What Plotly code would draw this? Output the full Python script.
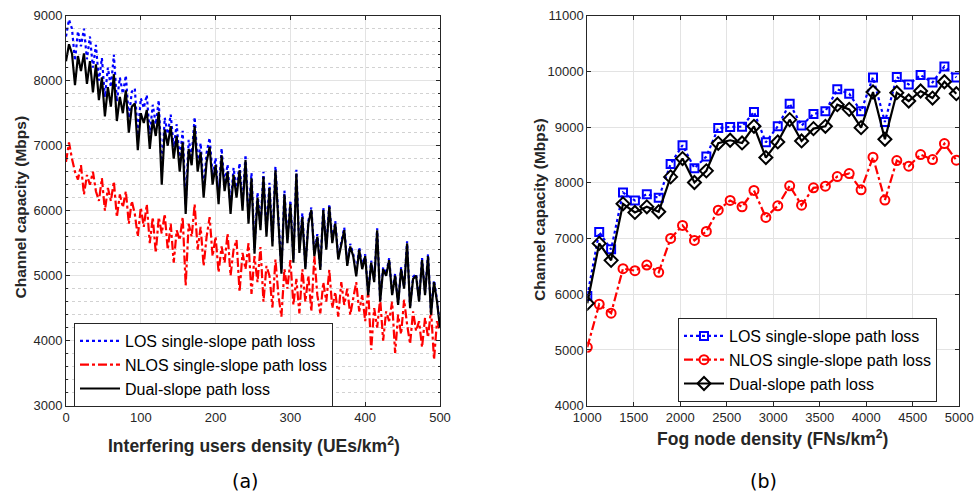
import plotly.graph_objects as go

# ---------------- (a) Interfering users density ----------------
ue_density = list(range(0, 501, 4))

los_a = [
    8680, 8940, 8800, 8310, 8760, 8530, 8800, 8330, 8680, 8200,
    8550, 8000, 8350, 7750, 8200, 7900, 8400, 7680, 8050, 7800,
    8080, 7430, 7830, 7880, 7160, 7730, 7580, 7780, 7180, 7630,
    7330, 7700, 6580, 7430, 7180, 7480, 6980, 7330, 6780, 7230,
    6090, 7090, 6840, 7440, 6740, 7040, 6340, 6890, 7120, 6540,
    6810, 6210, 6960, 6410, 6710, 6060, 6660, 6310, 6730, 6110,
    6860, 5880, 6580, 5420, 6280, 5780, 6600, 5680, 6430, 5530,
    6680, 5860, 5090, 6310, 5560, 6160, 5260, 6630, 5410, 5960,
    5140, 5840, 6050, 5340, 5640, 5130, 6050, 5440, 6100, 5540,
    5840, 5290, 5540, 5740, 5190, 5490, 5340, 5030, 5440, 5140,
    5330, 4730, 5230, 4930, 5730, 4630, 5130, 5030, 5270, 4730,
    5030, 4580, 5130, 4830, 5530, 4530, 4980, 5030, 4630, 5270,
    4730, 5330, 4430, 4930, 4630, 4230,
]

nlos_a = [
    6750, 7050, 6800, 6600, 6480, 6700, 6250, 6550, 6400, 6600,
    6300, 6150, 6500, 6000, 6350, 6150, 6450, 5900, 6250, 6050,
    6300, 5800, 6150, 5950, 5600, 6050, 5750, 6100, 5500, 5900,
    5350, 5900, 5650, 5950, 5400, 5800, 5200, 5700, 5550, 5900,
    4850, 5800, 5600, 6100, 5400, 5750, 5150, 5600, 5900, 5300,
    5600, 5050, 5450, 5200, 5650, 5000, 5400, 5550, 4750, 5350,
    5100, 5500, 4720, 5300, 4900, 5440, 4600, 5150, 5000, 4510,
    5250, 4700, 4370, 5100, 4800, 5240, 4550, 4950, 4420, 5100,
    4600, 5000, 4450, 5300, 4700, 4420, 4900, 4600, 5090, 4500,
    4750, 4370, 4900, 4550, 4800, 4400, 4650, 4900, 4450, 4700,
    4300, 4780, 3860, 4500, 4200, 4650, 4000, 4450, 4300, 4600,
    3810, 4400, 4100, 4630, 4250, 3950, 4450, 4150, 4300, 3900,
    4350, 4050, 4480, 3710, 4300, 4150,
]

dual_a = [
    8300, 8560, 8420, 7930, 8380, 8150, 8420, 7950, 8300, 7820,
    8250, 7700, 8050, 7450, 7900, 7600, 8100, 7380, 7750, 7500,
    7850, 7200, 7600, 7650, 6930, 7500, 7350, 7550, 6950, 7400,
    7150, 7520, 6400, 7250, 7000, 7300, 6800, 7150, 6600, 7050,
    5950, 6950, 6700, 7300, 6600, 6900, 6200, 6750, 6980, 6400,
    6700, 6100, 6850, 6300, 6600, 5950, 6550, 6200, 6620, 6000,
    6780, 5800, 6500, 5340, 6200, 5700, 6520, 5600, 6350, 5450,
    6620, 5800, 5030, 6250, 5500, 6100, 5200, 6570, 5350, 5900,
    5100, 5800, 6010, 5300, 5600, 5090, 6010, 5400, 6060, 5500,
    5800, 5250, 5500, 5700, 5150, 5450, 5300, 4990, 5400, 5100,
    5300, 4700, 5200, 4900, 5700, 4600, 5100, 5000, 5240, 4700,
    5000, 4550, 5100, 4800, 5500, 4500, 4950, 5000, 4600, 5240,
    4700, 5300, 4400, 4900, 4600, 4200,
]

# ---------------- (b) Fog node density ----------------
fn_density = [1000 + 128 * i for i in range(32)]

los_b = [
    5970, 7116, 6806, 7827, 7684, 7797, 7731, 8340, 8675, 8263,
    8472, 8985, 9003, 9009, 9272, 8728, 9015, 9421, 9027, 9236,
    9284, 9678, 9600, 9284, 9893, 9093, 9899, 9767, 9934, 9803,
    10090, 9893,
]
nlos_b = [
    5048, 5821, 5660, 6460, 6424, 6525, 6394, 7003, 7236, 6967,
    7128, 7510, 7684, 7570, 7863, 7379, 7588, 7946, 7600, 7910,
    7940, 8113, 8167, 7875, 8460, 7690, 8400, 8299, 8507, 8418,
    8704, 8406,
]
dual_b = [
    5839, 6913, 6609, 7624, 7469, 7570, 7481, 8107, 8436, 8006,
    8215, 8710, 8764, 8716, 9015, 8454, 8734, 9134, 8752, 8973,
    9015, 9403, 9319, 8991, 9630, 8782, 9618, 9469, 9648, 9522,
    9815, 9600,
]

names = ["LOS single-slope path loss", "NLOS single-slope path loss", "Dual-slope path loss"]
colors = ["#0000ff", "#ff0000", "#000000"]
dashes = ["dot", "dashdot", "solid"]
symbols = ["square-open", "circle-open", "diamond-open"]
msizes = [8, 9, 10]

fig = go.Figure()

for nm, ys, c, d in zip(names, [los_a, nlos_a, dual_a], colors, dashes):
    fig.add_trace(go.Scatter(x=ue_density, y=ys, mode="lines", name=nm,
                             line=dict(color=c, width=2.2, dash=d),
                             xaxis="x", yaxis="y", legend="legend"))

for nm, ys, c, d, s, ms in zip(names, [los_b, nlos_b, dual_b], colors, dashes, symbols, msizes):
    fig.add_trace(go.Scatter(x=fn_density, y=ys, mode="lines+markers", name=nm,
                             line=dict(color=c, width=2.2, dash=d),
                             marker=dict(symbol=s, size=ms, color=c, line=dict(width=2, color=c)),
                             xaxis="x2", yaxis="y2", legend="legend2"))

axis_col = "#262626"
grid_col = "#e3e3e3"
FONT = "Liberation Sans, Arial, sans-serif"
tick_font = dict(family=FONT, size=13, color=axis_col)

common = dict(showline=True, linecolor=axis_col, linewidth=1, mirror="ticks",
              ticks="inside", ticklen=4, tickcolor=axis_col, tickfont=tick_font,
              showgrid=True, gridcolor=grid_col, gridwidth=1, zeroline=False,
              automargin=False, tickformat="d")

ydom = [1 - 405.7 / 497, 1 - 15.7 / 497]

def ann(text, x, y, size, angle=0, family=FONT, color=axis_col):
    return dict(text=text, x=x / 975, y=1 - y / 497, xref="paper", yref="paper",
                xanchor="center", yanchor="middle", showarrow=False, textangle=angle,
                font=dict(family=family, size=size, color=color))

fig.update_layout(
    width=975, height=497,
    margin=dict(l=0, r=0, t=0, b=0),
    paper_bgcolor="white", plot_bgcolor="white",
    showlegend=True,
    xaxis=dict(domain=[66 / 975, 440 / 975], range=[0, 500], dtick=100, anchor="y", **common),
    yaxis=dict(domain=ydom, range=[3000, 9000], dtick=1000, anchor="x",
               minor=dict(dtick=200, showgrid=True, griddash="dot", gridcolor="#d2d2d2",
                          gridwidth=1, ticks="inside", ticklen=2, tickcolor=axis_col),
               **common),
    xaxis2=dict(domain=[587.3 / 975, 959.3 / 975], range=[1000, 5000], dtick=500, anchor="y2", **common),
    yaxis2=dict(domain=ydom, range=[4000, 11000], dtick=1000, anchor="x2", **common),
    legend=dict(x=74 / 975, y=1 - 323 / 497, xanchor="left", yanchor="top",
                bgcolor="white", bordercolor=axis_col, borderwidth=1,
                font=dict(family=FONT, size=16, color="#000000"),
                itemwidth=40, tracegroupgap=0),
    legend2=dict(x=678 / 975, y=1 - 318 / 497, xanchor="left", yanchor="top",
                 bgcolor="white", bordercolor=axis_col, borderwidth=1,
                 font=dict(family=FONT, size=16, color="#000000"),
                 itemwidth=40, tracegroupgap=0),
    annotations=[
        ann("<b>Interfering users density (UEs/km<sup>2</sup>)</b>", 254, 445, 17.5),
        ann("<b>Fog node density (FNs/km<sup>2</sup>)</b>", 772, 438, 17.5),
        ann("<b>Channel capacity (Mbps)</b>", 20.5, 207, 15.5, -90),
        ann("<b>Channel capacity (Mbps)</b>", 539, 210, 15.5, -90),
        ann("(a)", 245, 481, 19, family="DejaVu Sans, sans-serif", color="#000000"),
        ann("(b)", 763, 481, 19, family="DejaVu Sans, sans-serif", color="#000000"),
    ],
)

fig.write_html("out.html", config={"displayModeBar": False},
               post_script="document.body.style.margin='0px';")
